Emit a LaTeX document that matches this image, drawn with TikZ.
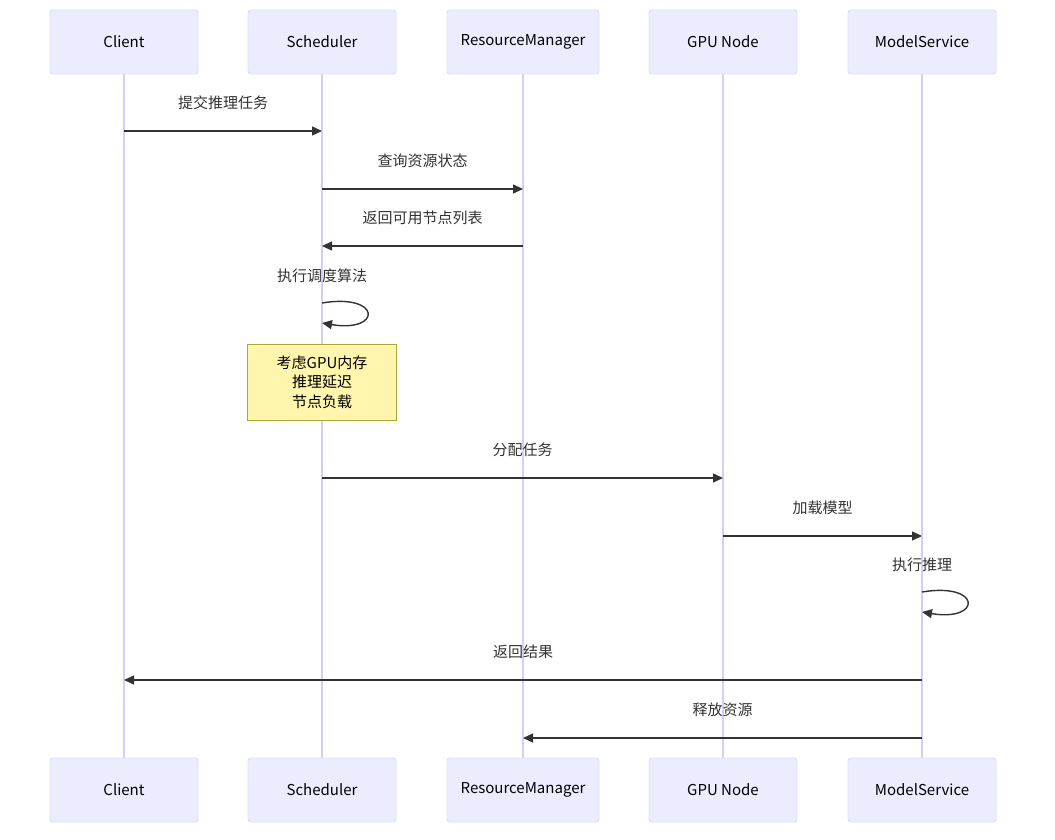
\documentclass[tikz,border=0pt]{standalone}
\usepackage{fontspec}
\setmainfont{Noto Sans CJK SC}
\usetikzlibrary{arrows.meta}
\definecolor{actorfill}{HTML}{ECECFF}
\definecolor{actorline}{RGB}{214,206,243}
\definecolor{signal}{HTML}{333333}
\definecolor{notefill}{HTML}{FFF5AD}
\definecolor{noteline}{HTML}{AAAA33}

\begin{document}
\begin{tikzpicture}[x=1pt,y=-1pt,
    actor/.style={draw=actorline, fill=actorfill, rounded corners=3pt,
        minimum height=64pt, inner sep=0pt, font=\fontsize{15}{18}\selectfont},
    lifeline/.style={actorline, line width=1.3pt},
    msg/.style={signal, line width=1.4pt, -{Triangle[length=10pt,width=9pt]}},
    msgtext/.style={text=signal, font=\fontsize{15}{18}\selectfont},
    notebox/.style={draw=noteline, fill=notefill, minimum width=149pt,
        minimum height=76pt, align=center, inner sep=0pt,
        font=\fontsize{15}{19.5}\selectfont}]
    \useasboundingbox[fill=white] (0,0) rectangle (1055,840);

    % Participantes
    \foreach \name/\label/\x/\w in {client/Client/124/148, sched/Scheduler/322/148,
        rm/ResourceManager/523/152, gpu/GPU Node/723/148, ms/ModelService/922/148} {
        \node[actor, minimum width=\w pt] (\name-top) at (\x,42) {\label};
        \node[actor, minimum width=\w pt] (\name-bot) at (\x,790) {\label};
        \draw[lifeline] (\name-top) -- (\name-bot);
    }
    % repintar cajas sobre las lineas
    \foreach \name/\label/\x/\w in {client/Client/124/148, sched/Scheduler/322/148,
        rm/ResourceManager/523/152, gpu/GPU Node/723/148, ms/ModelService/922/148} {
        \node[actor, minimum width=\w pt] at (\name-top) {\label};
        \node[actor, minimum width=\w pt] at (\name-bot) {\label};
    }

    % Mensajes
    \foreach \i/\from/\to/\y/\txt in {1/client/sched/131/提交推理任务,
        2/sched/rm/189/查询资源状态, 3/rm/sched/246/返回可用节点列表,
        6/sched/gpu/478/分配任务, 7/gpu/ms/536/加载模型,
        9/ms/client/680/返回结果, 10/ms/rm/738/释放资源} {
        \coordinate (m\i-a) at (\from-top |- 0,\y);
        \coordinate (m\i-b) at (\to-top |- 0,\y);
        \draw[msg] (m\i-a) -- (m\i-b);
        \path (m\i-a) -- node[msgtext, yshift=28pt] (m\i-t) {\txt} (m\i-b);
    }

    % Auto-mensajes
    \foreach \i/\who/\y/\txt in {4/sched/303/执行调度算法, 8/ms/592/执行推理} {
        \coordinate (s\i-a) at (\who-top |- 0,\y);
        \coordinate (s\i-b) at (\who-top |- 0,\y+20);
        \node[msgtext] (s\i-t) at ([yshift=27pt]s\i-a) {\txt};
        \draw[msg] (s\i-a) .. controls +(60,-10) and +(60,10) .. (s\i-b);
    }

    % Nota
    \node[notebox] (note) at (sched-top |- 0,382) {考虑GPU内存\\推理延迟\\节点负载};
\end{tikzpicture}
\end{document}
